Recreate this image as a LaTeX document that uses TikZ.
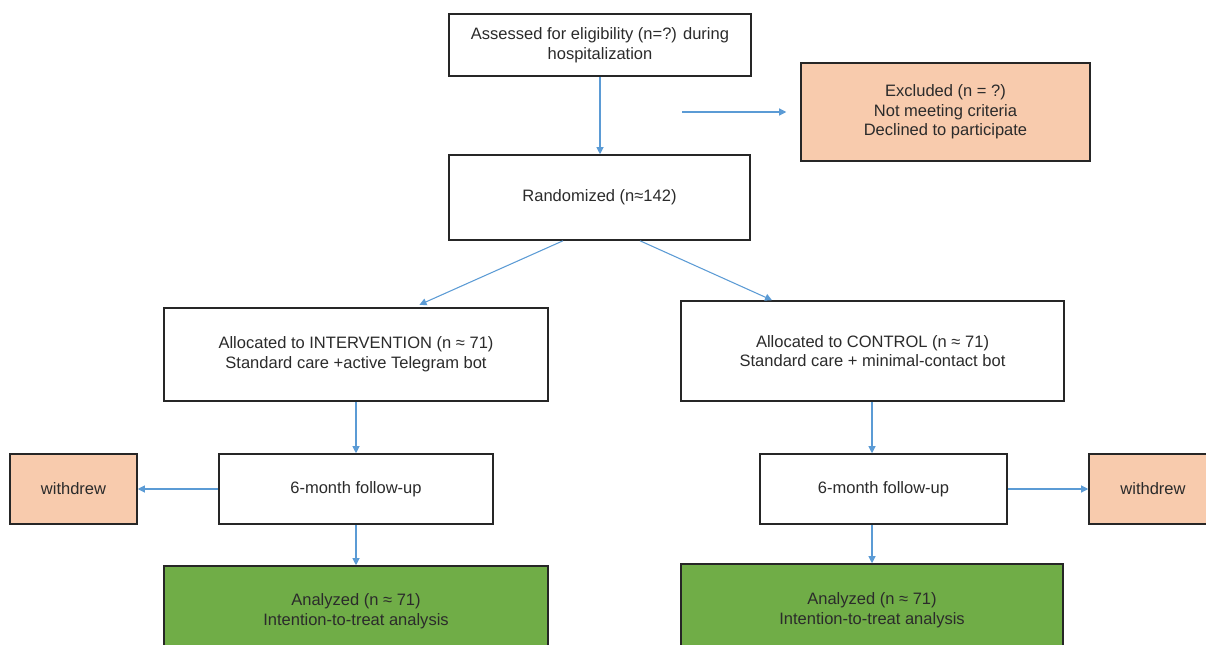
\documentclass[tikz,border=0pt]{standalone}
\usepackage{fontspec}
\setmainfont{Liberation Sans}
\usetikzlibrary{%
        arrows.meta,
        positioning}
\definecolor{flowblue}{HTML}{5B9BD5}
\definecolor{peach}{HTML}{F8CBAD}
\definecolor{leaf}{HTML}{70AD47}
\definecolor{ink}{HTML}{2B2B2B}
\tikzset{%
    box/.style={draw=black!85, line width=0.9pt, fill=white, align=center,
        text=ink, inner sep=2pt, font=\fontsize{9.4}{11.2}\selectfont},
    dropped/.style={box, fill=peach},
    analyzed/.style={box, fill=leaf},
    flow/.style={draw=flowblue, line width=0.6pt,
        -{Triangle[length=4pt, width=4pt]}}
}

\begin{document}
\begin{tikzpicture}[x=0.02cm, y=-0.02cm]

    \path[use as bounding box, clip] (0, 0) rectangle (1206, 645);
    \fill[white] (0, 0) rectangle (1206, 645);

    \node[box, minimum width=6.04cm, minimum height=1.24cm] (assess)
        at (600, 45) {Assessed for eligibility (n=?) during\\hospitalization};
    \node[dropped, minimum width=5.78cm, minimum height=1.96cm] (excluded)
        at (945.5, 112) {Excluded (n = ?)\\Not meeting criteria\\Declined to participate};
    \node[box, minimum width=6.02cm, minimum height=1.70cm] (random)
        at (599.5, 197.5) {Randomized (n≈142)};

    \node[box, minimum width=7.68cm, minimum height=1.86cm] (interv)
        at (356, 354.5) {Allocated to INTERVENTION (n ≈ 71)\\Standard care +active Telegram bot};
    \node[box, minimum width=7.66cm, minimum height=2.00cm] (control)
        at (872.5, 351) {Allocated to CONTROL (n ≈ 71)\\Standard care + minimal-contact bot};

    \node[box, minimum width=5.48cm, minimum height=1.40cm] (followL)
        at (356, 489) {6-month follow-up};
    \node[box, minimum width=4.94cm, minimum height=1.40cm] (followR)
        at (883.5, 489) {6-month follow-up};
    \node[dropped, minimum width=2.54cm, minimum height=1.40cm] (withdrewL)
        at (73.5, 489) {withdrew};
    \node[dropped, minimum width=2.56cm, minimum height=1.40cm] (withdrewR)
        at (1153, 489) {withdrew};

    \node[analyzed, minimum width=7.68cm, minimum height=1.80cm] (analyzedL)
        at (356, 611) {Analyzed (n ≈ 71)\\Intention-to-treat analysis};
    \node[analyzed, minimum width=7.64cm, minimum height=1.84cm] (analyzedR)
        at (872, 610) {Analyzed (n ≈ 71)\\Intention-to-treat analysis};

    \coordinate (exclfrom) at (682, 112);

    % enrolment
    \draw[flow] (assess.south) -- (assess.south |- random.north);
    \draw[flow, shorten >=0.28cm] (exclfrom) -- (excluded.west);

    % allocation
    \draw[flow, shorten >=0.12cm] ([xshift=-0.73cm] random.south) --
        ([xshift=1.16cm] interv.north);
    \draw[flow] ([xshift=0.81cm] random.south) --
        ([xshift=-2.01cm] control.north);

    % follow-up and analysis
    \draw[flow] (interv.south) -- (interv.south |- followL.north);
    \draw[flow] (followL.south) -- (followL.south |- analyzedL.north);
    \draw[flow] (analyzedR.north |- control.south) -- (analyzedR.north |- followR.north);
    \draw[flow] (analyzedR.north |- followR.south) -- (analyzedR.north);
    \draw[flow] (followL.west) -- (withdrewL.east);
    \draw[flow] (followR.east) -- (withdrewR.west);

\end{tikzpicture}
\end{document}
